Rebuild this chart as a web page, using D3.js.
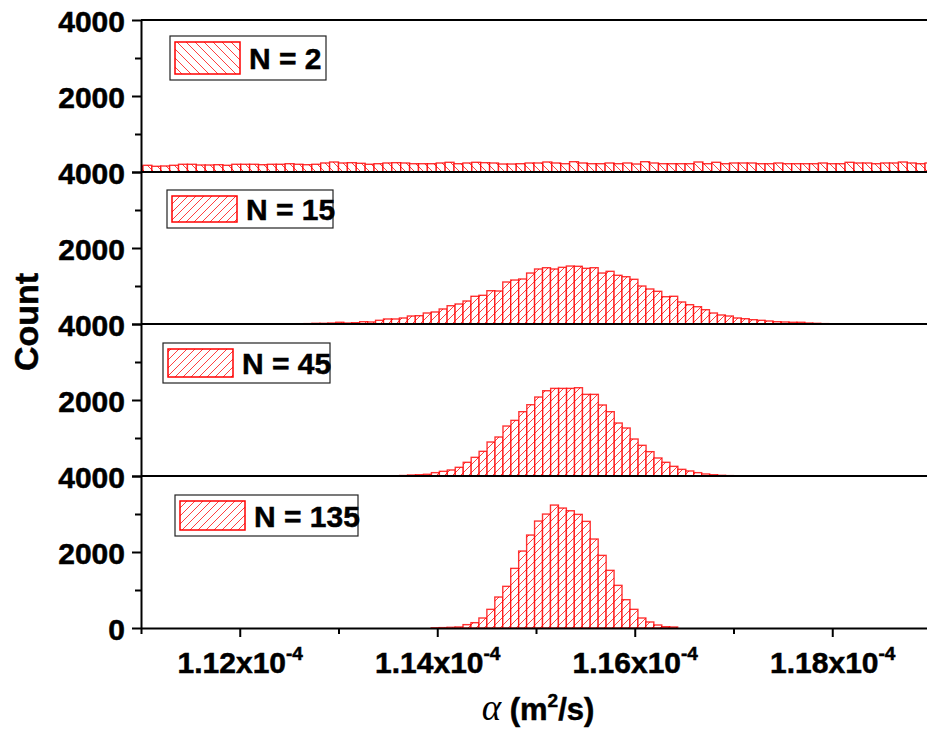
<!DOCTYPE html>
<html>
<head>
<meta charset="utf-8">
<script src="https://cdn.jsdelivr.net/npm/d3@7"></script>
<style>
  html, body { margin: 0; padding: 0; background: #fff; }
  svg { display: block; }
</style>
</head>
<body>
<div id="chart"></div>
<script>
// ---------------- data ----------------
const panelLabels = ["N = 2", "N = 15", "N = 45", "N = 135"];

// bin starts (alpha, m^2/s) and bin widths per panel
const binStarts = [1.1093e-4, 1.1249e-4, 1.13458e-4, 1.13939e-4];
const binWidths = [0.09e-6, 0.0805e-6, 0.0805e-6, 0.0805e-6];

const countsN2 = [150,
  176,150,158,176,203,203,184,184,192,176,203,203,203,192,203,203,218,203,192,203,237,263,237,245,229,203,218,237,245,
  237,218,218,218,237,255,218,237,255,245,237,210,210,218,237,237,263,237,218,271,237,218,218,237,218,237,210,271,237,218,
  218,218,218,263,218,255,218,237,237,237,218,218,237,218,218,218,218,237,218,218,255,237,237,218,237,237,263,237,218,
  237];

const countsN15 = [5,8,10,18,18,26,45,26,34,60,53,97,132,132,158,210,218,289,316,395,481,526,605,729,755,876,868,1105,1157,1184,1341,1447,1481,1447,
  1491,1525,1518,1465,1481,1341,1386,1281,1244,1176,999,921,860,718,729,579,508,455,376,289,237,210,158,139,113,97,79,60,53,45,45,26,18,10,5];

const countsN45 = [5,8,13,26,34,45,88,123,158,228,360,491,649,894,1026,1315,1464,1692,1876,2078,2244,2306,2306,2306,2323,2148,2148,1868,1692,1394,1263,973,807,640,474,360,254,175,132,88,53,34,18,10];

const countsN135 = [5,10,18,26,88,140,263,491,815,1096,1569,2025,2446,2814,2998,3235,3156,3085,2990,2806,2341,1911,1517,1122,745,491,263,158,79,34,26];

const panelCounts = [countsN2, countsN15, countsN45, countsN135];
const hatchIds = ["hatchBack", "hatchFwd", "hatchFwd", "hatchFwd"];

const xDomain = [1.11e-4, 1.19e-4];
const yDomain = [0, 4000];
const yTickValues = [0, 1000, 2000, 3000, 4000];
const yMajor = [0, 2000, 4000];
const xTickValues = [1.11e-4, 1.12e-4, 1.13e-4, 1.14e-4, 1.15e-4, 1.16e-4, 1.17e-4, 1.18e-4];
const xTickLabels = {"1.12": "1.12", "1.14": "1.14", "1.16": "1.16", "1.18": "1.18"};

// ---------------- layout ----------------
const W = 927, H = 729;
const plotLeft = 141, plotRight = 931;
const plotTop = 20, panelH = 152;
const FS = 30;
const sansBold = "'Liberation Sans', Arial, sans-serif";
const TEXT_STROKE = 0.5;

// legend boxes [x, y, w, h]
const legendBoxes = [[170, 36, 156, 44], [167, 190, 166, 38], [163, 343, 167, 40], [175, 495, 183, 41]];

const svg = d3.select("#chart").append("svg")
  .attr("width", W).attr("height", H)
  .attr("viewBox", `0 0 ${W} ${H}`);

const defs = svg.append("defs");
function makeHatch(id, forward, size) {
  const p = defs.append("pattern").attr("id", id)
    .attr("patternUnits", "userSpaceOnUse")
    .attr("width", size).attr("height", size);
  p.append("rect").attr("width", size).attr("height", size).attr("fill", "#fff");
  const s = size;
  const d = forward
    ? `M0,${s} L${s},0 M${-s/4},${s/4} L${s/4},${-s/4} M${3*s/4},${5*s/4} L${5*s/4},${3*s/4}`
    : `M0,0 L${s},${s} M${-s/4},${3*s/4} L${s/4},${5*s/4} M${3*s/4},${-s/4} L${5*s/4},${s/4}`;
  p.append("path").attr("d", d).attr("stroke", "#ff2a2a").attr("stroke-width", 0.9)
    .attr("fill", "none");
}
makeHatch("hatchBack", false, 9);
makeHatch("hatchFwd", true, 8);

const x = d3.scaleLinear().domain(xDomain).range([plotLeft, plotRight]);

defs.append("clipPath").attr("id", "plotClip")
  .append("rect").attr("x", plotLeft).attr("y", 0).attr("width", W - plotLeft).attr("height", H);

function boldText(sel, size) {
  return sel.attr("font-family", sansBold).attr("font-weight", "bold")
    .attr("font-size", size).attr("fill", "#000")
    .attr("stroke", "#000").attr("stroke-width", TEXT_STROKE);
}

panelCounts.forEach((counts, pi) => {
  const top = plotTop + pi * panelH;
  const y = d3.scaleLinear().domain(yDomain).range([top + panelH, top]);
  const bins = counts.map((c, i) => ({
    x0: binStarts[pi] + i * binWidths[pi],
    x1: binStarts[pi] + (i + 1) * binWidths[pi],
    c
  }));

  svg.append("g").attr("clip-path", "url(#plotClip)")
    .selectAll("rect").data(bins).join("rect")
    .attr("x", d => x(d.x0))
    .attr("width", d => x(d.x1) - x(d.x0))
    .attr("y", d => y(d.c))
    .attr("height", d => y(0) - y(d.c))
    .attr("fill", `url(#${hatchIds[pi]})`)
    .attr("stroke", "#ff0000")
    .attr("stroke-opacity", 0.8)
    .attr("stroke-width", 1.4);

  // left axis for this panel
  const isLast = pi === panelCounts.length - 1;
  const ax = svg.append("g").attr("transform", `translate(${plotLeft},0)`)
    .call(d3.axisLeft(y).tickValues(yTickValues).tickSize(9).tickSizeOuter(0)
      .tickFormat(v => (yMajor.includes(v) && (v !== 0 || isLast)) ? d3.format("d")(v) : ""));
  ax.select(".domain").attr("stroke", "#000").attr("stroke-width", 2);
  ax.selectAll(".tick line").attr("stroke", "#000").attr("stroke-width", 2)
    .attr("x2", v => yMajor.includes(v) ? -9 : -6);
  boldText(ax.selectAll(".tick text"), FS)
    .attr("x", -16).attr("dy", null).attr("y", 11);

  // panel top line
  svg.append("line")
    .attr("x1", plotLeft).attr("x2", plotRight)
    .attr("y1", y(4000)).attr("y2", y(4000))
    .attr("stroke", "#000").attr("stroke-width", 2);

  // legend
  const [lx, ly, lw, lh] = legendBoxes[pi];
  const lg = svg.append("g");
  lg.append("rect").attr("x", lx).attr("y", ly).attr("width", lw).attr("height", lh)
    .attr("fill", "#fff").attr("stroke", "#222").attr("stroke-width", 1.2);
  lg.append("rect").attr("x", lx + 5).attr("y", ly + 6).attr("width", 65).attr("height", lh - 12)
    .attr("fill", `url(#${hatchIds[pi]})`).attr("stroke", "#ff0000").attr("stroke-width", 1.5);
  boldText(lg.append("text"), FS)
    .attr("x", lx + 79).attr("y", ly + lh / 2 + 11)
    .text(panelLabels[pi]);
});

// bottom axis
const yBottom = plotTop + panelCounts.length * panelH;
const bx = svg.append("g").attr("transform", `translate(0,${yBottom})`)
  .call(d3.axisBottom(x).tickValues(xTickValues).tickSize(9).tickSizeOuter(0).tickFormat(""));
bx.select(".domain").attr("stroke", "#000").attr("stroke-width", 2);
bx.selectAll(".tick line").attr("stroke", "#000").attr("stroke-width", 2)
  .attr("y2", v => xTickLabels[(v * 1e4).toFixed(2)] ? 9 : 6);
bx.selectAll(".tick").each(function(v) {
  const key = (v * 1e4).toFixed(2);
  if (!xTickLabels[key]) return;
  const t = boldText(d3.select(this).append("text"), FS)
    .attr("y", 45)
    .attr("text-anchor", "middle");
  t.append("tspan").text(xTickLabels[key] + "x10");
  t.append("tspan").attr("font-size", 19).attr("dy", -13).text("-4");
});

// axis titles
const xt = boldText(svg.append("text"), 31)
  .attr("x", 538).attr("y", 720)
  .attr("text-anchor", "middle");
xt.append("tspan").attr("font-family", "'Liberation Serif', 'Times New Roman', serif")
  .attr("font-style", "italic").attr("font-weight", "normal").attr("stroke-width", 0)
  .attr("font-size", 37).text("α");
xt.append("tspan").text(" (m");
xt.append("tspan").attr("font-size", 19).attr("dy", -13).text("2");
xt.append("tspan").attr("dy", 13).text("/s)");

boldText(svg.append("text"), 34)
  .attr("transform", `translate(38,322) rotate(-90)`)
  .attr("text-anchor", "middle")
  .text("Count");
</script>
</body>
</html>
